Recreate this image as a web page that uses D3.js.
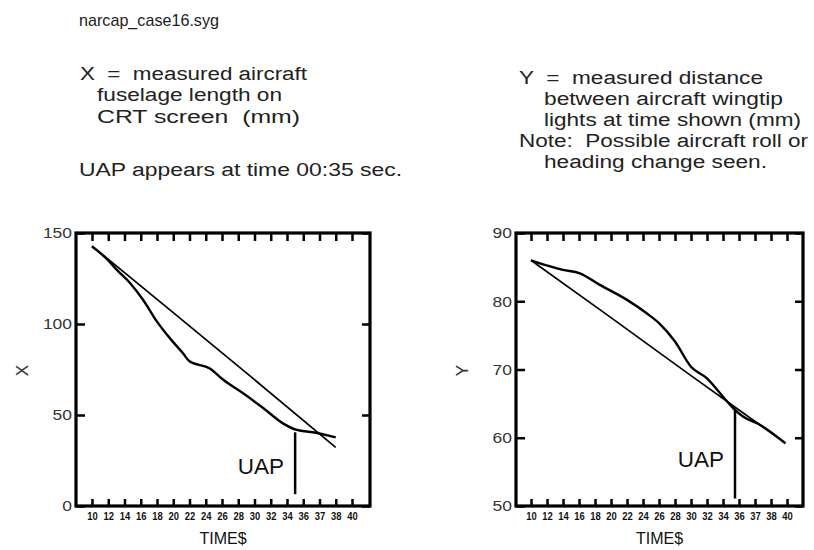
<!DOCTYPE html>
<html>
<head>
<meta charset="utf-8">
<script src="https://cdn.jsdelivr.net/npm/d3@7"></script>
<style>
  body { margin: 0; background: #fff; }
  svg { display: block; font-family: "Liberation Sans", Arial, sans-serif; }
</style>
</head>
<body>
<div id="chart"></div>
<script>
const width = 814, height = 550;

// tick labels under both panels (evenly spaced, as on the original plot)
const timeTicks = [10, 12, 14, 16, 18, 20, 22, 24, 26, 28, 30, 32, 34, 36, 38, 40, 42];
const timeLabels = ["10", "12", "14", "16", "18", "20", "22", "24", "26", "28", "30", "32", "34", "36", "37", "38", "40"];

// X panel: fuselage length
const xCurve = [
  [10, 142.5], [12, 135], [13, 130], [14.7, 122.4], [16.3, 113.2], [18, 101.3], [19.6, 92.1],
  [21.2, 83.9], [22, 79.5], [24.5, 75.6], [26.2, 69.2], [28.6, 61.9], [31.1, 53.7],
  [33.5, 45.4], [35.2, 41.8], [37.2, 40.5], [40, 37.7]
];
const xLine = [[10, 142.9], [20, 106.2], [30, 69.4], [40, 32.2]];
const xTicks = [0, 50, 100, 150];
const xUap = {time: 35, from: 40.5, to: 6.5, label: 17.5};

// Y panel: wingtip light distance
const yCurve = [
  [10, 86], [12.4, 85.1], [14, 84.6], [16.1, 84.1], [18.6, 82.4], [22, 80.2], [24.5, 78.2],
  [26, 76.8], [28, 74.1], [30, 70.4], [32, 68.7], [34, 66], [35.3, 64.3], [36.5, 63.1],
  [38.6, 61.9], [41.8, 59.2]
];
const yLine = [[10, 86], [20, 77.6], [30, 69.1], [41.8, 59.2]];
const yTicks = [50, 60, 70, 80, 90];
const yUap = {time: 35.5, from: 64.3, to: 51.1, label: 55.7};

const svg = d3.select('#chart').append('svg')
  .attr('width', width).attr('height', height)
  .attr('viewBox', [0, 0, width, height]);

// header notes: x, baseline, width, text
const notes = svg.append('g').attr('fill', '#222');
[
  [79, 26, 140, 17, "narcap_case16.syg"],
  [80, 80, 227, 18, "X  =  measured aircraft"],
  [97, 101, 185, 18, "fuselage length on"],
  [97, 123, 203, 18, "CRT screen  (mm)"],
  [79, 176, 323, 18, "UAP appears at time 00:35 sec."],
  [519, 84, 244, 18, "Y  =  measured distance"],
  [544, 105, 239, 18, "between aircraft wingtip"],
  [544, 126, 257, 18, "lights at time shown (mm)"],
  [519, 147, 289, 18, "Note:  Possible aircraft roll or"],
  [544, 168, 223, 18, "heading change seen."]
].forEach(([x, y, w, fs, t]) => notes.append('text')
  .attr('x', x).attr('y', y).attr('font-size', fs)
  .attr('textLength', w).attr('lengthAdjust', 'spacingAndGlyphs')
  .attr('xml:space', 'preserve').text(t));

function panel({frame, xRange, yDomain, ticks, curve, line, uap, name}) {
  const [fx0, fx1] = frame;
  const top = 233, bottom = 506;
  const x = d3.scaleLinear().domain([10, 42]).range(xRange);
  const y = d3.scaleLinear().domain(yDomain).range([bottom, top]);
  const g = svg.append('g');

  const styleAxis = sel => {
    sel.select('.domain').remove();
    sel.selectAll('.tick line').attr('stroke', '#000').attr('stroke-width', 2.5);
  };

  g.append('g').attr('transform', `translate(0,${bottom})`)
    .call(d3.axisBottom(x).tickValues(timeTicks).tickSize(-7).tickPadding(6)
      .tickFormat((d, i) => timeLabels[i]))
    .call(styleAxis)
    .call(s => s.selectAll('text').attr('font-size', 11.5).attr('font-weight', 'bold')
      .attr('textLength', 10.5).attr('lengthAdjust', 'spacingAndGlyphs')
      .attr('fill', '#111').attr('font-family', null));

  g.append('g').attr('transform', `translate(0,${top})`)
    .call(d3.axisTop(x).tickValues(timeTicks).tickSize(-8).tickFormat(''))
    .call(styleAxis);

  g.append('g').attr('transform', `translate(${fx0},0)`)
    .call(d3.axisLeft(y).tickValues(ticks).tickSize(-9).tickPadding(4))
    .call(styleAxis)
    .call(s => s.selectAll('text').attr('font-size', 15).attr('fill', '#333')
      .attr('textLength', d => String(d).length * 9.7).attr('lengthAdjust', 'spacingAndGlyphs')
      .attr('font-family', null));

  g.append('g').attr('transform', `translate(${fx1},0)`)
    .call(d3.axisRight(y).tickValues(ticks).tickSize(-8).tickFormat(''))
    .call(styleAxis);

  g.append('rect')
    .attr('x', fx0).attr('y', top).attr('width', fx1 - fx0).attr('height', bottom - top)
    .attr('fill', 'none').attr('stroke', '#000').attr('stroke-width', 3.2);

  const path = d3.line().x(d => x(d[0])).y(d => y(d[1])).curve(d3.curveMonotoneX);
  g.append('path').attr('d', path(line)).attr('fill', 'none').attr('stroke', '#000').attr('stroke-width', 1.7);
  g.append('path').attr('d', path(curve)).attr('fill', 'none').attr('stroke', '#000').attr('stroke-width', 2.4);

  g.append('line')
    .attr('x1', x(uap.time)).attr('x2', x(uap.time))
    .attr('y1', y(uap.from)).attr('y2', y(uap.to))
    .attr('stroke', '#000').attr('stroke-width', 2.5);
  g.append('text')
    .attr('x', x(uap.time) - 11).attr('y', y(uap.label))
    .attr('text-anchor', 'end').attr('font-size', 22.5).attr('fill', '#111')
    .text('UAP');

  g.append('text')
    .attr('x', (fx0 + fx1) / 2).attr('y', 544)
    .attr('text-anchor', 'middle').attr('font-size', 16).attr('fill', '#111')
    .text('TIME$');

  g.append('text')
    .attr('transform', `translate(${fx0 - 54},${(top + bottom) / 2 + 1}) rotate(-90)`)
    .attr('text-anchor', 'middle').attr('dy', '0.35em').attr('font-size', 17).attr('fill', '#333')
    .text(name);
}

panel({frame: [76, 370], xRange: [92, 352], yDomain: [0, 150], ticks: xTicks,
       curve: xCurve, line: xLine, uap: xUap, name: 'X'});
panel({frame: [516, 803], xRange: [531, 787], yDomain: [50, 90], ticks: yTicks,
       curve: yCurve, line: yLine, uap: yUap, name: 'Y'});
</script>
</body>
</html>
